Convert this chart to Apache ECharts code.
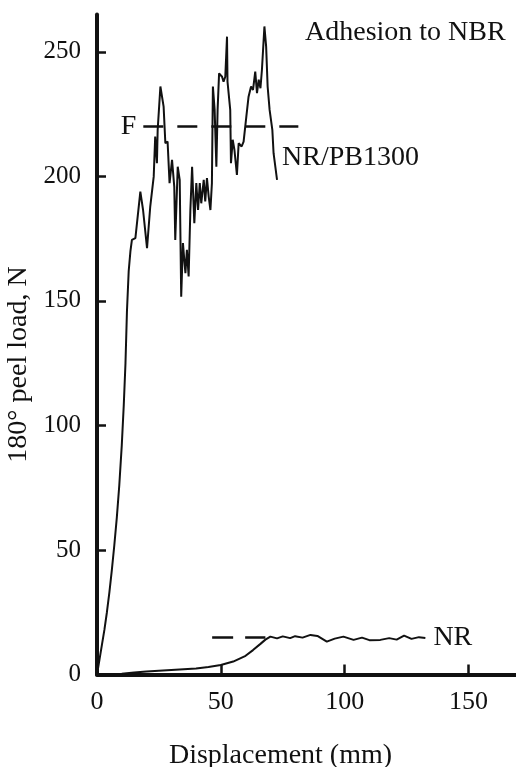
<!DOCTYPE html>
<html>
<head>
<meta charset="utf-8">
<script src="https://cdn.jsdelivr.net/npm/echarts@6/dist/echarts.min.js"></script>
<style>
  html, body { margin: 0; padding: 0; background: #fff; }
  #chart { width: 516px; height: 767px; }
</style>
</head>
<body>
<div id="chart"></div>
<script>
// 180° peel test of NR and NR/PB1300 bonded to NBR
const xTicks = [0, 50, 100, 150];
const yTicks = [0, 50, 100, 150, 200, 250];

// NR/PB1300: displacement (mm), load (N)
const pbDisp = [0, 1, 2, 3, 4, 5, 6, 7, 8, 9, 10, 10.8, 11.5, 12.1, 12.8, 13.5, 14.1, 15.5, 17.5, 18.6, 20.2, 21.5, 22.9, 23.5, 24.2, 24.5, 25.6, 26.9, 27.6, 28.5, 29.3, 30.3, 31.2, 31.6, 32.6, 33.4, 34.0, 34.7, 35.7, 36.3, 37.0, 37.7, 38.4, 39.3, 40.1, 40.8, 41.5, 42.1, 43.1, 43.7, 44.4, 45.1, 45.8, 46.4, 46.8, 47.5, 48.2, 48.7, 49.3, 50.5, 51.1, 51.8, 52.5, 52.7, 53.4, 53.8, 54.1, 54.8, 55.5, 56.5, 57.2, 58.4, 59.2, 60.3, 61.2, 62.2, 63.0, 63.9, 64.6, 65.3, 66.0, 66.6, 67.6, 68.3, 68.9, 69.7, 70.3, 70.8, 71.3, 72.7];
const pbLoad = [0, 6, 12, 18, 25, 33, 42, 52, 63, 76, 92, 108, 125, 146, 162, 170, 174.5, 175.2, 193.9, 186.5, 171.2, 187.9, 199.9, 216, 205.3, 218.7, 236.1, 228, 213.3, 214, 197.3, 206.6, 195.9, 174.5, 203.9, 198.6, 151.7, 173.2, 161.1, 170.5, 159.8, 186.5, 203.9, 181.2, 197.3, 186.5, 197.3, 189.2, 198.6, 189.9, 199.3, 191.9, 186.5, 197.3, 236.1, 226.7, 203.9, 226.7, 241.4, 240, 238, 240, 256.1, 238, 238.8, 226.7, 205.3, 214.7, 210.6, 200.6, 213.3, 212, 214, 224, 232, 236.1, 234.7, 242.1, 233.4, 238.8, 235.4, 242.8, 260.2, 252.1, 236.1, 226.7, 226.7, 218.7, 209.3, 198.6];

// NR: displacement (mm), load (N)
const nrDisp = [0, 5, 10, 15, 20, 30, 40, 45, 50, 55, 60, 63, 66, 68, 70, 72.7, 75, 78, 80, 83, 86.2, 89, 92.8, 96, 99.5, 103.6, 107, 110, 114.4, 118, 121, 124, 127, 130, 132.6];
const nrLoad = [0, 0.1, 0.3, 0.8, 1.2, 1.8, 2.4, 3.0, 3.8, 5.2, 7.5, 9.8, 12.3, 14.0, 15.2, 14.5, 15.3, 14.6, 15.4, 14.8, 15.9, 15.5, 13.2, 14.4, 15.2, 13.9, 14.8, 13.8, 13.9, 14.6, 14.0, 15.6, 14.3, 15.0, 14.7];

// mean peel force markers
const fLevel = 220;
const fSpan = [18.7, 81.3];
const nrLevel = 15;
const nrSpan = [46.5, 68];

const serif = 'Liberation Serif';
const ink = '#111';

const zip = (xs, ys) => xs.map((x, i) => [x, ys[i]]);

// dashed horizontal level segment drawn as a markLine
const levelLine = (span, level, dash, labelText) => ({
  silent: true,
  symbol: ['none', 'none'],
  lineStyle: { color: ink, width: 2.5, type: dash },
  label: labelText
    ? { show: true, position: 'start', distance: 7, formatter: labelText, fontFamily: serif, fontSize: 28, color: ink }
    : { show: false },
  emphasis: { disabled: true },
  data: [[{ coord: [span[0], level] }, { coord: [span[1], level] }]]
});

const chart = echarts.init(document.getElementById('chart'), null, { renderer: 'canvas' });
chart.setOption({
  backgroundColor: '#fff',
  animation: false,
  title: {
    text: 'Adhesion to NBR',
    left: 305,
    top: 19,
    padding: 0,
    textStyle: { fontFamily: serif, fontSize: 28, fontWeight: 'normal', color: ink }
  },
  grid: { left: 97, top: 14.5, width: 421, height: 660, containLabel: false, outerBoundsMode: 'none' },
  xAxis: {
    type: 'value',
    min: 0,
    max: 170,
    name: 'Displacement (mm)',
    nameLocation: 'middle',
    nameGap: 67,
    nameTextStyle: { fontFamily: serif, fontSize: 28, color: ink, padding: [0, 54, 0, 0] },
    axisLine: { show: true, lineStyle: { color: ink, width: 4 } },
    axisTick: { show: true, inside: true, length: 10, customValues: xTicks, lineStyle: { color: ink, width: 2.5 } },
    axisLabel: { customValues: xTicks, margin: 15, fontFamily: serif, fontSize: 26, color: ink },
    splitLine: { show: false }
  },
  yAxis: {
    type: 'value',
    min: 0,
    max: 265,
    name: '180° peel load, N',
    nameLocation: 'middle',
    nameGap: 62,
    nameTextStyle: { fontFamily: serif, fontSize: 28, color: ink, padding: [0, 40, 0, 0] },
    axisLine: { show: true, lineStyle: { color: ink, width: 4 } },
    axisTick: { show: true, inside: true, length: 9, customValues: yTicks, lineStyle: { color: ink, width: 2.5 } },
    axisLabel: { customValues: yTicks, margin: 16, fontFamily: serif, fontSize: 25, color: ink },
    splitLine: { show: false }
  },
  series: [
    {
      name: 'NR/PB1300',
      type: 'line',
      data: zip(pbDisp, pbLoad),
      showSymbol: false,
      symbol: 'none',
      lineStyle: { color: ink, width: 2 },
      endLabel: {
        show: true,
        formatter: 'NR/PB1300',
        offset: [-3, -22],
        fontFamily: serif, fontSize: 28, color: ink
      },
      markLine: levelLine(fSpan, fLevel, [20, 14], 'F'),
      z: 3
    },
    {
      name: 'NR',
      type: 'line',
      data: zip(nrDisp, nrLoad),
      showSymbol: false,
      symbol: 'none',
      lineStyle: { color: ink, width: 2 },
      endLabel: {
        show: true,
        formatter: 'NR',
        offset: [0, 0],
        fontFamily: serif, fontSize: 28, color: ink
      },
      markLine: levelLine(nrSpan, nrLevel, [21, 12], null),
      z: 3
    }
  ]
});
</script>
</body>
</html>
